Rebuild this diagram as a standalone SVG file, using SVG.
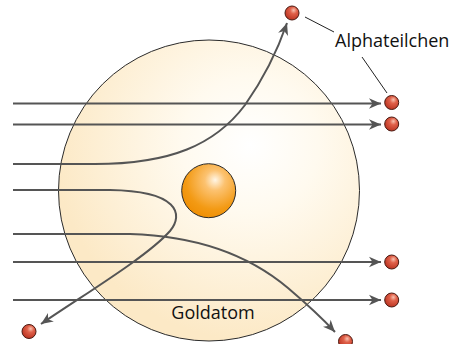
<svg xmlns="http://www.w3.org/2000/svg" width="465" height="344" viewBox="0 0 465 344">
<defs>
<radialGradient id="atomG" cx="250" cy="145" r="195" gradientUnits="userSpaceOnUse">
<stop offset="0" stop-color="#ffffff"/>
<stop offset="0.35" stop-color="#fffaef"/>
<stop offset="1" stop-color="#fce9c6"/>
</radialGradient>
<radialGradient id="nucG" cx="0.6" cy="0.33" r="0.75" fx="0.62" fy="0.3">
<stop offset="0" stop-color="#fff6e6"/>
<stop offset="0.25" stop-color="#fcc270"/>
<stop offset="0.7" stop-color="#f39a14"/>
<stop offset="1" stop-color="#ee8c00"/>
</radialGradient>
<radialGradient id="alphaG" cx="0.6" cy="0.35" r="0.7" fx="0.62" fy="0.3">
<stop offset="0" stop-color="#f8c2b0"/>
<stop offset="0.35" stop-color="#e0614a"/>
<stop offset="1" stop-color="#b8301e"/>
</radialGradient>
<marker id="arr" markerUnits="userSpaceOnUse" viewBox="-13 -6 14 12" refX="0" refY="0" markerWidth="14" markerHeight="12" orient="auto">
<path d="M0,0 L-12,-5.2 L-8.5,0 L-12,5.2 Z" fill="#555555"/>
</marker>
</defs>
<style>
.ray{fill:none;stroke:#555555;stroke-width:2;marker-end:url(#arr)}
.alpha{fill:url(#alphaG);stroke:#4a1a12;stroke-width:1}
.lbl{font-family:"Open Sans","Liberation Sans",sans-serif;font-size:18px;fill:#111111}
.lead{stroke:#222222;stroke-width:1;fill:none}
</style>
<g id="atom">
<circle cx="209" cy="190.5" r="150.5" fill="url(#atomG)" stroke="#2a2a2a" stroke-width="1"/>
<text class="lbl" x="213" y="319" text-anchor="middle">Goldatom</text>
</g>
<g id="nucleus">
<circle cx="208.7" cy="190.7" r="27" fill="url(#nucG)" stroke="#2a2a2a" stroke-width="1"/>
</g>
<g id="connectors">
<path class="ray" d="M13,103.5 H381"/>
<path class="ray" d="M13,124.5 H381"/>
<path class="ray" d="M13,164 L95,164 C170,164 215,145 245,105 C264,78 277,52 287,23"/>
<path class="ray" d="M13,190 L110,190 C178,191 184,214 170,231 C148,256 88,292 41,324"/>
<path class="ray" d="M13,234 L130,234 C200,236 250,256 288,288 C308,305 322,318 335,332"/>
<path class="ray" d="M13,262 H381"/>
<path class="ray" d="M13,300 H381"/>
<line class="lead" x1="305" y1="17" x2="334" y2="32"/>
<line class="lead" x1="362" y1="57" x2="387" y2="93"/>
</g>
<g id="particles">
<circle class="alpha" cx="292" cy="13" r="7"/>
<circle class="alpha" cx="391.7" cy="102.5" r="7"/>
<circle class="alpha" cx="391.7" cy="124" r="7"/>
<circle class="alpha" cx="391.7" cy="262" r="7"/>
<circle class="alpha" cx="391.7" cy="300" r="7"/>
<circle class="alpha" cx="29" cy="331.5" r="7"/>
<circle class="alpha" cx="345.5" cy="341.5" r="7"/>
</g>
<g id="label">
<text class="lbl" x="335" y="47">Alphateilchen</text>
</g>
</svg>
